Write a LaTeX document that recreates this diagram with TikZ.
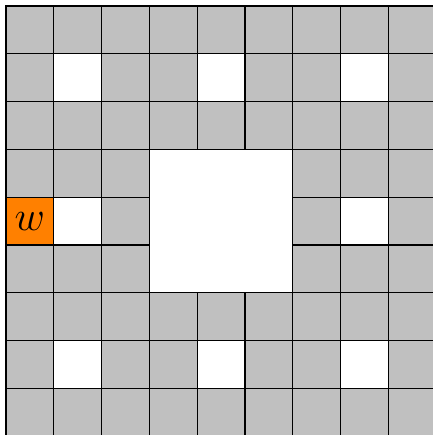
\documentclass[tikz,border=0pt]{standalone}
\definecolor{cellgray}{RGB}{192,192,192}
\definecolor{worange}{RGB}{255,128,0}
\tikzset{cellbox/.style={fill=cellgray,draw=black,line width=0.7pt},
         holebox/.style={fill=white,draw=black,line width=0.7pt}}
\begin{document}
\begin{tikzpicture}
\useasboundingbox (-0.1255,0.025) rectangle (8.93,9.1255);
\foreach \i in {0,...,8}{
  \foreach \j in {0,...,8}{
    \pgfmathtruncatemacro{\a}{mod(\i,3)==1 && mod(\j,3)==1 ? 1 : 0}
    \pgfmathtruncatemacro{\b}{(\i>=3 && \i<=5 && \j>=3 && \j<=5) ? 1 : 0}
    \ifnum\a=0 \ifnum\b=0
      \draw[cellbox] (\i,\j) rectangle ++(1,1);
    \fi\fi
  }
}
\draw[cellbox,fill=worange] (0,4) rectangle (1,5);
\node[inner sep=0pt] (w) at (0.5,4.5) {\Huge $w$};
\end{tikzpicture}
\end{document}
